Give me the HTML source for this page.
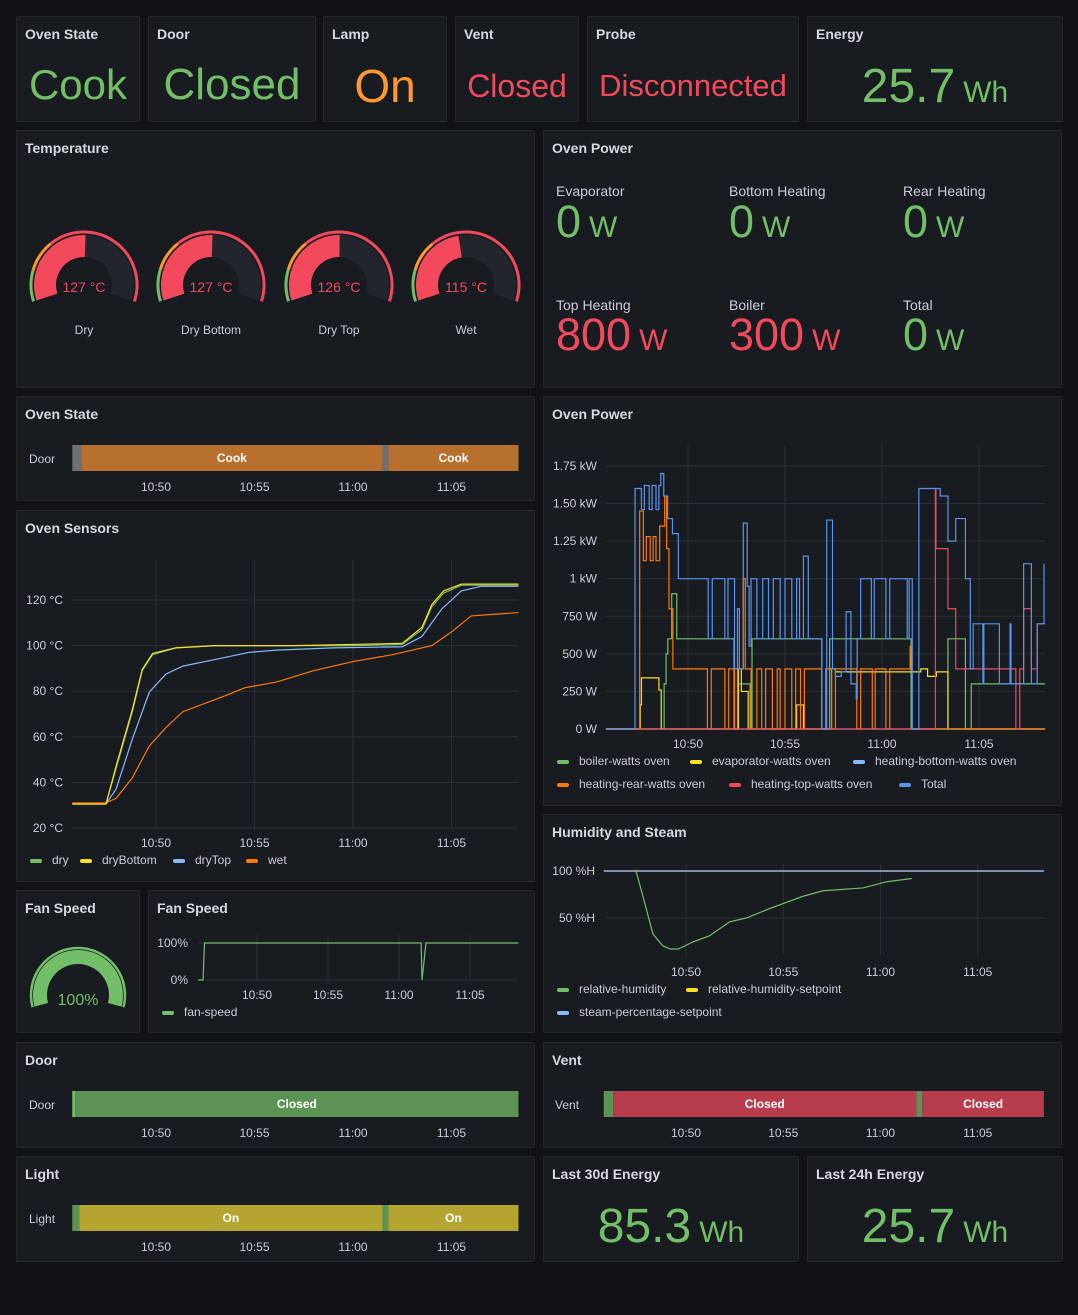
<!DOCTYPE html>
<html><head><meta charset="utf-8">
<style>
*{box-sizing:border-box;margin:0;padding:0}
body{width:1078px;height:1315px;background:#111217;font-family:"Liberation Sans",sans-serif;color:#ccccdc;position:relative;overflow:hidden}
.p{position:absolute;background:#181b1f;border:1px solid #25272c;border-radius:2px}
.t{position:absolute;left:8px;top:9px;font-size:14px;font-weight:bold;color:#d8d9e0}
.big{position:absolute;left:0;right:0;text-align:center;white-space:nowrap}
.lbl{position:absolute;font-size:14px;color:#ccccdc}
.val{position:absolute;font-size:45px;white-space:nowrap}
.val small{font-size:30px;margin-left:8px}
svg{position:absolute;left:0;top:0}
</style></head><body>
<div class="p" style="left:16px;top:16px;width:124px;height:106px"><div class="t">Oven State</div><div class="big" style="top:44px;font-size:42px;color:#73bf69">Cook</div></div>
<div class="p" style="left:148px;top:16px;width:168px;height:106px"><div class="t">Door</div><div class="big" style="top:43px;font-size:44px;color:#73bf69">Closed</div></div>
<div class="p" style="left:323px;top:16px;width:124px;height:106px"><div class="t">Lamp</div><div class="big" style="top:42px;font-size:46px;color:#ff9830">On</div></div>
<div class="p" style="left:455px;top:16px;width:124px;height:106px"><div class="t">Vent</div><div class="big" style="top:51px;font-size:32px;color:#f2495c">Closed</div></div>
<div class="p" style="left:587px;top:16px;width:212px;height:106px"><div class="t">Probe</div><div class="big" style="top:51px;font-size:31px;color:#f2495c">Disconnected</div></div>
<div class="p" style="left:807px;top:16px;width:256px;height:106px"><div class="t">Energy</div><div class="big" style="top:42px;font-size:48px;color:#73bf69">25.7<span style="font-size:30px;margin-left:8px">Wh</span></div></div>

<div class="p" style="left:16px;top:130px;width:519px;height:258px"><div class="t">Temperature</div></div>
<div class="p" style="left:543px;top:130px;width:519px;height:258px"><div class="t">Oven Power</div>
<div class="lbl" style="left:12px;top:52px">Evaporator</div><div class="val" style="left:12px;top:65px;color:#73bf69">0<small>W</small></div>
<div class="lbl" style="left:185px;top:52px">Bottom Heating</div><div class="val" style="left:185px;top:65px;color:#73bf69">0<small>W</small></div>
<div class="lbl" style="left:359px;top:52px">Rear Heating</div><div class="val" style="left:359px;top:65px;color:#73bf69">0<small>W</small></div>
<div class="lbl" style="left:12px;top:166px">Top Heating</div><div class="val" style="left:12px;top:178px;color:#f2495c">800<small>W</small></div>
<div class="lbl" style="left:185px;top:166px">Boiler</div><div class="val" style="left:185px;top:178px;color:#f2495c">300<small>W</small></div>
<div class="lbl" style="left:359px;top:166px">Total</div><div class="val" style="left:359px;top:178px;color:#73bf69">0<small>W</small></div>
</div>
<div class="p" style="left:16px;top:396px;width:519px;height:105px"><div class="t">Oven State</div></div>
<div class="p" style="left:543px;top:396px;width:519px;height:410px"><div class="t">Oven Power</div></div>
<div class="p" style="left:16px;top:510px;width:519px;height:372px"><div class="t">Oven Sensors</div></div>
<div class="p" style="left:16px;top:890px;width:124px;height:143px"><div class="t">Fan Speed</div></div>
<div class="p" style="left:148px;top:890px;width:387px;height:143px"><div class="t">Fan Speed</div></div>
<div class="p" style="left:543px;top:814px;width:519px;height:219px"><div class="t">Humidity and Steam</div></div>
<div class="p" style="left:16px;top:1042px;width:519px;height:106px"><div class="t">Door</div></div>
<div class="p" style="left:543px;top:1042px;width:519px;height:106px"><div class="t">Vent</div></div>
<div class="p" style="left:16px;top:1156px;width:519px;height:106px"><div class="t">Light</div></div>
<div class="p" style="left:543px;top:1156px;width:256px;height:106px"><div class="t">Last 30d Energy</div><div class="big" style="top:42px;font-size:48px;color:#73bf69">85.3<span style="font-size:30px;margin-left:8px">Wh</span></div></div>
<div class="p" style="left:807px;top:1156px;width:256px;height:106px"><div class="t">Last 24h Energy</div><div class="big" style="top:42px;font-size:48px;color:#73bf69">25.7<span style="font-size:30px;margin-left:8px">Wh</span></div></div>

<svg id="s" width="1078" height="1315"></svg>
<script>
// ---- data ----
const gaugeNames=["Dry","Dry Bottom","Dry Top","Wet"];
const gaugeValues=[127,127,126,115];
const fanValue=100;
const timeTicks=["10:50","10:55","11:00","11:05"];
const tickMinutes=[5,10,15,20];
const sensorTicks=[20,40,60,80,100,120];
const dryT=[0.75,2.46,2.97,3.8,4.3,4.83,6.0,8,12,15,17.5,18.5,19.0,19.6,20.5,23.4];
const dryV=[30.5,30.5,46,71,89,96,99,100,100,100,100.5,107,117,123,126.5,126.5];
const dryBottomT=[0.75,2.46,2.97,3.8,4.3,4.83,6.0,8,12,15,17.5,18.5,19.0,19.6,20.5,23.4];
const dryBottomV=[30.5,30.5,47,72,89.5,96.6,99,100,100,100.5,101,108,118,124,127,127];
const dryTopT=[0.75,2.46,2.97,3.8,4.66,5.5,6.36,8.05,9.7,11.1,14,17.5,18.5,19.5,20.5,21.5,23.4];
const dryTopV=[30.5,30.5,37,59,79.6,87.5,91,94,97,98,99,99.5,104,116,124,126,126];
const wetT=[0.75,2.46,2.97,3.8,4.66,5.5,6.36,8.5,9.5,11.1,13,15,17,18,19,20,21,23.4];
const wetV=[31,31,33,42,56,64,71,78,81.5,84,89,93,96,98,100,106,113,114.5];
const powerTicks=[0,250,500,750,1000,1250,1500,1750];
const powerTickLabels=["0 W","250 W","500 W","750 W","1 kW","1.25 kW","1.50 kW","1.75 kW"];
const totalT=[0.77,2.27,2.6,2.75,3.0,3.15,3.35,3.5,3.6,3.75,3.95,4.2,4.5,6.04,6.25,6.9,7.06,7.4,7.55,7.65,7.85,8.05,8.15,8.25,8.55,8.85,9.15,9.4,9.75,10.0,10.35,10.6,10.75,10.95,11.2,11.9,12.15,12.45,12.6,12.9,13.15,13.4,13.67,13.72,13.9,14.45,14.6,15.2,15.4,16.3,16.4,16.56,16.9,18.0,18.4,18.8,19.3,19.55,19.7,20.2,20.25,20.9,21.05,21.6,21.65,22.1,22.3,22.7,23.0,23.35];
const totalV=[0,1600,1460,1620,1460,1620,1460,1620,1700,1550,1400,1300,1000,600,1000,600,1000,400,800,400,1370,950,550,1000,600,1000,600,1000,600,1000,600,1000,600,1150,600,0,1390,400,350,380,780,300,200,600,1000,600,1000,600,1000,600,1000,0,1600,1550,1250,1400,1000,400,700,300,700,700,300,700,300,300,1100,300,700,1100];
const rearT=[0.77,2.51,2.7,2.85,3.05,3.2,3.35,3.54,3.8,3.9,4.02,4.22,6.0,6.2,6.9,7.1,7.4,7.55,7.84,7.95,8.25,8.55,8.8,9.0,9.35,9.6,9.75,10.0,10.35,10.55,10.8,11.0,11.9,12.1,12.4,12.6,13.7,13.9,14.5,14.65,15.2,15.4,16.45,16.55,23.4];
const rearV=[0,1450,1120,1280,1120,1280,1120,1350,1550,1200,800,400,0,400,0,400,0,400,1000,400,0,400,0,400,0,400,0,400,0,400,0,400,0,400,0,400,0,400,0,400,0,400,550,0,0];
const boilerT=[0.77,3.77,3.87,3.96,4.16,4.42,7.37,7.6,8.2,8.3,11.9,12.3,16.5,18.4,19.3,19.6,23.4];
const boilerV=[0,300,500,600,900,600,0,300,0,600,0,600,0,600,0,300,300];
const evapT=[0.77,2.54,2.6,3.5,3.62,7.6,7.75,8.1,10.6,10.95,11.9,12.4,12.6,17.0,17.35,17.8,18.4,23.4];
const evapV=[0,160,340,260,0,400,250,0,160,0,0,400,380,400,350,380,0,0];
const topT=[0.77,17.75,17.78,18.4,18.8,21.9,22.1,22.3,22.7,23.0,23.4];
const topV=[0,1600,1200,800,400,0,400,800,400,700,700];
const bottomT=[0.77,23.4];
const bottomV=[0,0];
const humT=[2.43,2.8,3.3,3.8,4.2,4.6,5.36,6.2,7.25,8.1,9.3,11.0,12.05,14.1,15.3,16.6];
const humV=[100,72,33,20.5,17,17,24.6,31,46,50,60,73,79,82,88.5,92];
const steamT=[0.77,23.4];
const steamV=[100,100];
const fanT=[0.85,1.2,1.3,16.56,16.62,16.9,23.4];
const fanV=[0,0,100,100,0,100,100];
const ovenStateSegs=[["",0.75,1.2,"#6e6e73"],["Cook",1.2,16.5,"#b8702f"],["",16.5,16.8,"#6e6e73"],["Cook",16.8,23.4,"#b8702f"]];
const doorSegs=[["",0.75,0.9,"#73bf69"],["Closed",0.9,23.4,"#5a9353"]];
const ventSegs=[["",0.77,1.25,"#5a9353"],["Closed",1.25,16.85,"#b83c4b"],["",16.85,17.15,"#5a9353"],["Closed",17.15,23.4,"#b83c4b"]];
const lightSegs=[["",0.75,1.1,"#5a9353"],["On",1.1,16.5,"#b3a52f"],["",16.5,16.8,"#5a9353"],["On",16.8,23.4,"#b3a52f"]];

// ---- helpers ----
const S=document.getElementById('s');const NS='http://www.w3.org/2000/svg';
function mk(tag,at,parent){const e=document.createElementNS(NS,tag);for(const k in at)e.setAttribute(k,at[k]);(parent||S).appendChild(e);return e;}
function txt(x,y,s,at){const e=mk('text',Object.assign({x:x,y:y,fill:'#ccccdc','font-size':12,'font-family':'Liberation Sans, sans-serif'},at||{}));e.textContent=s;return e;}
function axis(t0x,ppm){return t=>t0x+(t-5)*ppm;}
function lin(v0,y0,ppu){return v=>y0-(v-v0)*ppu;}
function xticks(X,y,gy0,gy1){tickMinutes.forEach((m,i)=>{if(gy0!==undefined){const g=mk('line',{x1:X(m),x2:X(m),y1:gy0,y2:gy1,stroke:'#2c2f35'});}const l=txt(X(m),y,timeTicks[i],{'text-anchor':'middle'});});}
function linePath(T,V,X,Y,step){let d='';for(let i=0;i<T.length;i++){const x=X(T[i]),y=Y(V[i]);if(i==0)d='M'+x+','+y;else if(step)d+=' H'+x+' V'+y;else d+=' L'+x+','+y;}return d;}
function series(T,V,X,Y,c,name,step,w){const p=mk('path',{d:linePath(T,V,X,Y,step),fill:'none',stroke:c,'stroke-width':w||1.2});return p;}
function legend(x,y,c,s){const r=mk('rect',{x:x,y:y-4,width:12,height:4,rx:2,fill:c});const t=txt(x+22,y+1,s);}
function pol(cx,cy,r,a){const rad=(a-90)*Math.PI/180;return [cx+r*Math.cos(rad),cy+r*Math.sin(rad)];}
function arc(cx,cy,r,a0,a1,c,w,name){const p0=pol(cx,cy,r,a0),p1=pol(cx,cy,r,a1);const large=(a1-a0)>180?1:0;const e=mk('path',{d:`M${p0[0]},${p0[1]} A${r},${r} 0 ${large} 1 ${p1[0]},${p1[1]}`,fill:'none',stroke:c,'stroke-width':w});return e;}
function timeline(segs,label,X,y,x0){const l=txt(x0,y+18,label,{'font-size':12});segs.forEach(s=>{const r=mk('rect',{x:X(s[1]),y:y,width:X(s[2])-X(s[1]),height:26,fill:s[3]});if(s[0]){const t=txt((X(s[1])+X(s[2]))/2,y+17,s[0],{'text-anchor':'middle','font-weight':'bold','font-size':12,fill:'#fff'});}});}

// ---- temperature gauges ----
const gMax=250,gA=108;
const gx=[84,211,339,466];
gaugeValues.forEach((v,i)=>{const cx=gx[i],cy=285;
 arc(cx,cy,53,-gA,-gA+2*gA*40/250,'#73bf69',3,'gauge-threshold-green');
 arc(cx,cy,53,-gA+2*gA*40/250,-gA+2*gA*80/250,'#ff9830',3,'gauge-threshold-orange');
 arc(cx,cy,53,-gA+2*gA*80/250,gA,'#f2495c',3,'gauge-threshold-red');
 arc(cx,cy,39,-gA,gA,'#22252b',22,'gauge-track');
 arc(cx,cy,39,-gA,-gA+2*gA*v/gMax,'#f2495c',22,'gauge-fill');
 const t=txt(cx,cy+7,v+' °C',{'text-anchor':'middle','font-size':14,fill:'#f2495c'});
 const n=txt(cx,334,gaugeNames[i],{'text-anchor':'middle','font-size':12});
});
// fan gauge
arc(78,995,47,-gA+3,gA-3,'#73bf69',2.5,'fan-gauge-threshold');
arc(78,995,38,-gA+3,-gA+3+2*(gA-3)*fanValue/100,'#73bf69',14,'fan-gauge-fill');
{const t=txt(78,1005,fanValue+'%',{'text-anchor':'middle','font-size':16,fill:'#73bf69'});}

// ---- timelines ----
const XL=axis(156,19.7);
timeline(ovenStateSegs,'Door',XL,445,29);xticks(XL,491);
timeline(doorSegs,'Door',XL,1091,29);xticks(XL,1137);
timeline(lightSegs,'Light',XL,1205,29);xticks(XL,1251);
const XR=axis(686,19.45);
timeline(ventSegs,'Vent',XR,1091,555);xticks(XR,1137);

// ---- oven sensors ----
{const Y=lin(20,828,2.28);
 sensorTicks.forEach(v=>{const g=mk('line',{x1:72,x2:518,y1:Y(v),y2:Y(v),stroke:'#2c2f35'});const t=txt(63,Y(v)+4,v+' °C',{'text-anchor':'end'});});
 xticks(XL,847,560,828);
 series(dryT,dryV,XL,Y,'#73bf69','series-dry');
 series(wetT,wetV,XL,Y,'#ff780a','series-wet');
 series(dryTopT,dryTopV,XL,Y,'#8ab8ff','series-drytop');
 series(dryBottomT,dryBottomV,XL,Y,'#fade2a','series-drybottom');
 legend(30,863,'#73bf69','dry');legend(80,863,'#fade2a','dryBottom');legend(173,863,'#8ab8ff','dryTop');legend(246,863,'#ff780a','wet');
}
// ---- oven power ----
{const X=axis(688,19.4),Y=lin(0,729,0.1503);
 powerTicks.forEach((v,i)=>{const g=mk('line',{x1:606,x2:1045,y1:Y(v),y2:Y(v),stroke:'#2c2f35'});const t=txt(597,Y(v)+4,powerTickLabels[i],{'text-anchor':'end'});});
 xticks(X,748,445,729);
 series(bottomT,bottomV,X,Y,'#8ab8ff','series-heating-bottom',true);
 series(boilerT,boilerV,X,Y,'#73bf69','series-boiler',true);
 series(evapT,evapV,X,Y,'#fade2a','series-evaporator',true);
 series(rearT,rearV,X,Y,'#ff780a','series-heating-rear',true);
 series(topT,topV,X,Y,'#f2495c','series-heating-top',true);
 series(totalT,totalV,X,Y,'#5794f2','series-total',true);
 legend(557,764,'#73bf69','boiler-watts oven');legend(690,764,'#fade2a','evaporator-watts oven');legend(853,764,'#8ab8ff','heating-bottom-watts oven');
 legend(557,787,'#ff780a','heating-rear-watts oven');legend(729,787,'#f2495c','heating-top-watts oven');legend(899,787,'#5794f2','Total');
}
// ---- humidity ----
{const Y=lin(0,965,0.94);
 [50,100].forEach(v=>{const g=mk('line',{x1:606,x2:1045,y1:Y(v),y2:Y(v),stroke:'#2c2f35'});const t=txt(595,Y(v)+4,v+' %H',{'text-anchor':'end'});});
 xticks(XR,976,864,955);
 series(steamT,steamV,XR,Y,'#c0d8ff','series-steam-setpoint');
 series(humT,humV,XR,Y,'#73bf69','series-relative-humidity');
 legend(557,992,'#73bf69','relative-humidity');legend(686,992,'#fade2a','relative-humidity-setpoint');legend(557,1015,'#8ab8ff','steam-percentage-setpoint');
}
// ---- fan speed ----
{const X=axis(257,14.2),Y=lin(0,980,0.37);
 [0,100].forEach(v=>{const g=mk('line',{x1:198,x2:518,y1:Y(v),y2:Y(v),stroke:'#2c2f35'});const t=txt(188,Y(v)+4,v+'%',{'text-anchor':'end'});});
 xticks(X,999,935,980);
 series(fanT,fanV,X,Y,'#73bf69','series-fan-speed');
 legend(162,1015,'#73bf69','fan-speed');
}
</script>
</body></html>
